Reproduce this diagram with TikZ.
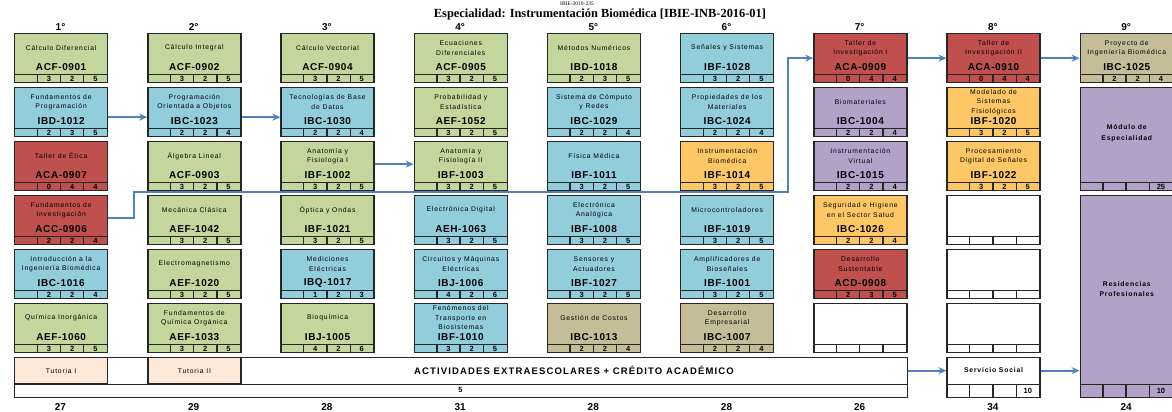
\documentclass[tikz,border=0pt]{standalone}
\usepackage{fontspec}
\setmainfont{Liberation Sans}
\newfontfamily\namefont[LetterSpace=12]{Liberation Sans}
\newfontfamily\codefont[LetterSpace=6]{Liberation Sans}
\newfontfamily\titlefont{Liberation Serif}
\usetikzlibrary{arrows.meta}

\definecolor{cgreen}{HTML}{C3D69B}
\definecolor{cblue}{HTML}{92CDDC}
\definecolor{cred}{HTML}{C0504D}
\definecolor{corange}{HTML}{FDC765}
\definecolor{cpurple}{HTML}{B3A2C7}
\definecolor{ctan}{HTML}{C4BD97}
\definecolor{cpink}{HTML}{FDE9D9}
\definecolor{arrowblue}{HTML}{4F81BD}

\tikzset{
  course/.style={rectangle, draw=black!85, line width=1.3pt, inner sep=0pt,
    minimum width=93pt, minimum height=49pt, anchor=north west},
  cname/.style={font=\namefont\fontsize{6.8}{9.5}\selectfont, align=center, inner sep=0pt},
  ccode/.style={font=\codefont\bfseries\fontsize{10}{12}\selectfont, inner sep=0pt},
  cnum/.style={font=\bfseries\fontsize{7.5}{9}\selectfont, inner sep=0pt},
  cell/.style={draw=black!85, line width=1.3pt},
  flow/.style={draw=arrowblue, line width=1.8pt, -{Stealth[length=8pt,width=7pt]}},
  semhead/.style={font=\bfseries\fontsize{10}{12}\selectfont, inner sep=0pt},
}

% row of four small cells at the foot of a box
\newcommand\cellrow[6]{%
  \draw[cell] ([yshift=#2]#1.south west) -- ([yshift=#2]#1.south east);
  \foreach \k/\v in {0/#3,1/#4,2/#5,3/#6} {
    \ifnum\k>0 \draw[cell] ([xshift=\k*23.25pt]#1.south west) -- ++(0pt,#2);\fi
    \node[cnum] (#1-\k) at ([xshift={(\k+0.5)*23.25pt}, yshift=#2/2]#1.south west) {\v};
  }
}
\newcommand\course[9]{%
  \node[course, fill=#4] (#1) at ({14+(#2-1)*133.2}, {33+(#3-1)*54}) {};
  \node[cname] (#1-name) at ([yshift=-15pt]#1.north) {#5};
  \node[ccode] (#1-code) at ([yshift=-34pt]#1.north) {#6};
  \cellrow{#1}{9pt}{}{#7}{#8}{#9}
}

\begin{document}
\begin{tikzpicture}[x=1pt, y=-1pt]
  \useasboundingbox (0,0) rectangle (1172,412);
  \node[font=\titlefont\fontsize{5.5}{6}\selectfont, inner sep=0pt] (code) at (577,3.2) {IBIE-2010-235};
  \node[font=\titlefont\bfseries\fontsize{12.4}{13}\selectfont, inner sep=0pt] (title) at (600,15)
    {Especialidad: Instrumentación Biomédica [IBIE-INB-2016-01]};

  \foreach \c/\t in {1/27,2/29,3/28,4/31,5/28,6/28,7/26,8/34,9/24} {
    \node[semhead] (sem\c) at ({60.5+(\c-1)*133.2}, 27) {\c°};
    \node[semhead] (tot\c) at ({60.5+(\c-1)*133.2}, 407) {\t};
  }

  \course{cd}{1}{1}{cgreen}{Cálculo Diferencial}{ACF-0901}{3}{2}{5}
  \course{fp}{1}{2}{cblue}{Fundamentos de\\Programación}{IBD-1012}{2}{3}{5}
  \course{te}{1}{3}{cred}{Taller de Ética}{ACA-0907}{0}{4}{4}
  \course{fi}{1}{4}{cred}{Fundamentos de\\Investigación}{ACC-0906}{2}{2}{4}
  \course{ib}{1}{5}{cblue}{Introducción a la\\Ingeniería Biomédica}{IBC-1016}{2}{2}{4}
  \course{qi}{1}{6}{cgreen}{Química Inorgánica}{AEF-1060}{3}{2}{5}

  \course{ci}{2}{1}{cgreen}{Cálculo Integral}{ACF-0902}{3}{2}{5}
  \course{poo}{2}{2}{cblue}{Programación\\Orientada a Objetos}{IBC-1023}{2}{2}{4}
  \course{al}{2}{3}{cgreen}{Álgebra Lineal}{ACF-0903}{3}{2}{5}
  \course{mc}{2}{4}{cgreen}{Mecánica Clásica}{AEF-1042}{3}{2}{5}
  \course{em}{2}{5}{cgreen}{Electromagnetismo}{AEF-1020}{3}{2}{5}
  \course{fqo}{2}{6}{cgreen}{Fundamentos de\\Química Orgánica}{AEF-1033}{3}{2}{5}

  \course{cv}{3}{1}{cgreen}{Cálculo Vectorial}{ACF-0904}{3}{2}{5}
  \course{tbd}{3}{2}{cblue}{Tecnologías de Base\\de Datos}{IBC-1030}{2}{2}{4}
  \course{afa}{3}{3}{cgreen}{Anatomía y\\Fisiología I}{IBF-1002}{3}{2}{5}
  \course{oo}{3}{4}{cgreen}{Óptica y Ondas}{IBF-1021}{3}{2}{5}
  \course{me}{3}{5}{cblue}{Mediciones\\Eléctricas}{IBQ-1017}{1}{2}{3}
  \course{bq}{3}{6}{cgreen}{Bioquímica}{IBJ-1005}{4}{2}{6}

  \course{ed}{4}{1}{cgreen}{Ecuaciones\\Diferenciales}{ACF-0905}{3}{2}{5}
  \course{pe}{4}{2}{cgreen}{Probabilidad y\\Estadística}{AEF-1052}{3}{2}{5}
  \course{afb}{4}{3}{cgreen}{Anatomía y\\Fisiología II}{IBF-1003}{3}{2}{5}
  \course{eld}{4}{4}{cblue}{Electrónica Digital}{AEH-1063}{3}{2}{5}
  \course{cme}{4}{5}{cblue}{Circuitos y Máquinas\\Eléctricas}{IBJ-1006}{4}{2}{6}
  \course{ftb}{4}{6}{cblue}{Fenómenos del\\Transporte en\\Biosistemas}{IBF-1010}{3}{2}{5}

  \course{mn}{5}{1}{cgreen}{Métodos Numéricos}{IBD-1018}{2}{3}{5}
  \course{scr}{5}{2}{cblue}{Sistema de Cómputo\\y Redes}{IBC-1029}{2}{2}{4}
  \course{fm}{5}{3}{cblue}{Física Médica}{IBF-1011}{3}{2}{5}
  \course{ea}{5}{4}{cblue}{Electrónica\\Analógica}{IBF-1008}{3}{2}{5}
  \course{sa}{5}{5}{cblue}{Sensores y\\Actuadores}{IBF-1027}{3}{2}{5}
  \course{gc}{5}{6}{ctan}{Gestión de Costos}{IBC-1013}{2}{2}{4}

  \course{sys}{6}{1}{cblue}{Señales y Sistemas}{IBF-1028}{3}{2}{5}
  \course{pm}{6}{2}{cblue}{Propiedades de los\\Materiales}{IBC-1024}{2}{2}{4}
  \course{inb}{6}{3}{corange}{Instrumentación\\Biomédica}{IBF-1014}{3}{2}{5}
  \course{mic}{6}{4}{cblue}{Microcontroladores}{IBF-1019}{3}{2}{5}
  \course{ab}{6}{5}{cblue}{Amplificadores de\\Bioseñales}{IBF-1001}{3}{2}{5}
  \course{de}{6}{6}{ctan}{Desarrollo\\Empresarial}{IBC-1007}{2}{2}{4}

  \course{tia}{7}{1}{cred}{Taller de\\Investigación I}{ACA-0909}{0}{4}{4}
  \course{bm}{7}{2}{cpurple}{Biomateriales}{IBC-1004}{2}{2}{4}
  \course{iv}{7}{3}{cpurple}{Instrumentación\\Virtual}{IBC-1015}{2}{2}{4}
  \course{shs}{7}{4}{corange}{Seguridad e Higiene\\en el Sector Salud}{IBC-1026}{2}{2}{4}
  \course{ds}{7}{5}{cred}{Desarrollo\\Sustentable}{ACD-0908}{2}{3}{5}
  \course{free76}{7}{6}{white}{}{}{}{}{}

  \course{tib}{8}{1}{cred}{Taller de\\Investigación II}{ACA-0910}{0}{4}{4}
  \course{msf}{8}{2}{corange}{Modelado de\\Sistemas\\Fisiológicos}{IBF-1020}{3}{2}{5}
  \course{pds}{8}{3}{corange}{Procesamiento\\Digital de Señales}{IBF-1022}{3}{2}{5}
  \course{free84}{8}{4}{white}{}{}{}{}{}
  \course{free85}{8}{5}{white}{}{}{}{}{}
  \course{free86}{8}{6}{white}{}{}{}{}{}

  \course{pib}{9}{1}{ctan}{Proyecto de\\Ingeniería Biomédica}{IBC-1025}{2}{2}{4}
  \node[course, fill=cpurple, minimum height=103pt] (mod) at (1079.6,87) {};
  \node[cname, font=\bfseries\namefont\fontsize{6.8}{11}\selectfont] (mod-name) at ([yshift=-46pt]mod.north) {Módulo de\\Especialidad};
  \cellrow{mod}{9pt}{}{}{}{25}
  \node[course, fill=cpurple, minimum height=202pt] (res) at (1079.6,195) {};
  \node[cname, font=\bfseries\namefont\fontsize{6.8}{10}\selectfont] (res-name) at ([yshift=-94pt]res.north) {Residencias\\Profesionales};
  \cellrow{res}{14pt}{}{}{}{10}

  \node[course, fill=white, minimum width=893pt, minimum height=40pt] (extra) at (14,357) {};
  \draw[cell] ([yshift=14pt]extra.south west) -- ([yshift=14pt]extra.south east);
  \node[course, fill=cpink, minimum height=26pt] (tuta) at (14,357) {};
  \node[course, fill=cpink, minimum height=26pt] (tutb) at (147.2,357) {};
  \node[cname] (tuta-name) at (tuta) {Tutoria I};
  \node[cname] (tutb-name) at (tutb) {Tutoria II};
  \node[font=\namefont\bfseries\fontsize{9.5}{11}\selectfont, inner sep=0pt] (act) at (574,370)
    {ACTIVIDADES EXTRAESCOLARES + CRÉDITO ACADÉMICO};
  \node[cnum] (act-cr) at (460.5,390) {5};

  \node[course, fill=white, minimum height=40pt] (serv) at (946.4,357) {};
  \node[cname, font=\bfseries\namefont\fontsize{6.8}{9}\selectfont] (serv-name) at ([yshift=-13pt]serv.north) {Servicio Social};
  \cellrow{serv}{14pt}{}{}{}{10}

  \draw[flow] ([yshift=-5pt]fp.east) -- ([yshift=-5pt]poo.west);
  \draw[flow] ([yshift=-5pt]poo.east) -- ([yshift=-5pt]tbd.west);
  \draw[flow] ([yshift=2pt]afa.east) -- ([yshift=2pt]afb.west);
  \coordinate (bend) at (788,192);
  \draw[flow] ([yshift=2pt]fi.east) -- ++(26pt,0pt) |- (bend) |- (tia.west);
  \draw[flow] (tia.east) -- (tib.west);
  \draw[flow] (tib.east) -- (pib.west);
  \draw[flow] ([yshift=7pt]extra.east) -- ([yshift=7pt]extra.east -| serv.west);
  \draw[flow] ([yshift=7pt]serv.east) -- ([yshift=7pt]serv.east -| res.west);
\end{tikzpicture}
\end{document}
